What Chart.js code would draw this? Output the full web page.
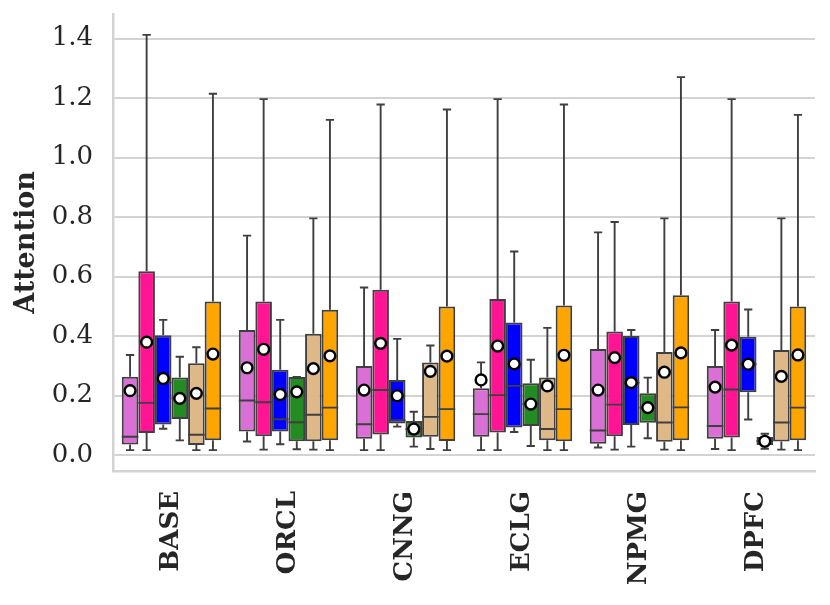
<!DOCTYPE html>
<html>
<head>
<meta charset="utf-8">
<script src="https://cdn.jsdelivr.net/npm/chart.js@4/dist/chart.umd.min.js"></script>
<style>
  html, body { margin: 0; padding: 0; background: #fff; }
  #wrap { width: 830px; height: 605px; }
</style>
</head>
<body>
<div id="wrap"><canvas id="chart" width="830" height="605"></canvas></div>
<script>
// categories on the x axis
const categories = ['BASE', 'ORCL', 'CNNG', 'ECLG', 'NPMG', 'DPFC'];
const seriesNames = ['S1', 'S2', 'S3', 'S4', 'S5', 'S6'];
const seriesColors = ['#DA70D6', '#FF1493', '#0000FF', '#228B22', '#DEB887', '#FFA500'];

// box statistics, one row per series, one value per category
const whiskerLow = [
  [0.017, 0.046, 0.017, 0.017, 0.026, 0.021],
  [0.017, 0.019, 0.017, 0.017, 0.019, 0.017],
  [0.089, 0.037, 0.096, 0.078, 0.029, 0.120],
  [0.050, 0.020, 0.029, 0.031, 0.057, 0.022],
  [0.017, 0.019, 0.021, 0.017, 0.019, 0.019],
  [0.017, 0.017, 0.017, 0.017, 0.017, 0.017]
];
const q1 = [
  [0.036, 0.080, 0.055, 0.062, 0.039, 0.055],
  [0.075, 0.064, 0.070, 0.076, 0.064, 0.060],
  [0.103, 0.080, 0.107, 0.093, 0.102, 0.212],
  [0.122, 0.047, 0.060, 0.098, 0.109, 0.034],
  [0.034, 0.047, 0.062, 0.050, 0.045, 0.046],
  [0.050, 0.050, 0.048, 0.047, 0.050, 0.050]
];
const medians = [
  [0.062, 0.184, 0.104, 0.138, 0.083, 0.098],
  [0.176, 0.178, 0.219, 0.202, 0.170, 0.221],
  [0.244, 0.121, 0.118, 0.233, 0.244, 0.306],
  [0.191, 0.111, 0.088, 0.172, 0.160, 0.047],
  [0.069, 0.136, 0.129, 0.088, 0.110, 0.110],
  [0.157, 0.160, 0.155, 0.155, 0.161, 0.160]
];
const q3 = [
  [0.264, 0.421, 0.300, 0.225, 0.357, 0.300],
  [0.618, 0.517, 0.556, 0.525, 0.416, 0.517],
  [0.403, 0.287, 0.253, 0.446, 0.401, 0.398],
  [0.261, 0.263, 0.115, 0.242, 0.208, 0.061],
  [0.309, 0.408, 0.312, 0.261, 0.347, 0.354],
  [0.517, 0.489, 0.500, 0.503, 0.538, 0.500]
];
const whiskerHigh = [
  [0.337, 0.738, 0.564, 0.312, 0.749, 0.421],
  [1.413, 1.197, 1.179, 1.197, 0.784, 1.197],
  [0.455, 0.455, 0.391, 0.685, 0.421, 0.490],
  [0.331, 0.263, 0.146, 0.321, 0.261, 0.072],
  [0.363, 0.796, 0.369, 0.428, 0.796, 0.796],
  [1.215, 1.127, 1.162, 1.179, 1.271, 1.144]
];
const means = [
  [0.217, 0.294, 0.219, 0.253, 0.219, 0.229],
  [0.380, 0.356, 0.376, 0.367, 0.328, 0.370],
  [0.258, 0.204, 0.200, 0.307, 0.244, 0.306],
  [0.191, 0.213, 0.088, 0.172, 0.160, 0.047],
  [0.208, 0.291, 0.282, 0.233, 0.279, 0.265],
  [0.340, 0.334, 0.333, 0.336, 0.344, 0.337]
];

// y axis
const yTicks = [0.0, 0.2, 0.4, 0.6, 0.8, 1.0, 1.2, 1.4];
const yMin = -0.053;
const yMax = 1.483;

const inkColor = '#262626';
const lineColor = '#3f3f3f';
const gridColor = '#d3d3d3';

// whiskers, caps, medians and mean markers on top of the floating bars
const boxExtras = {
  id: 'boxExtras',
  afterDatasetsDraw(chart) {
    const ctx = chart.ctx;
    const y = chart.scales.y;
    ctx.save();
    ctx.strokeStyle = lineColor;
    ctx.lineWidth = 1.9;
    chart.data.datasets.forEach((ds, i) => {
      chart.getDatasetMeta(i).data.forEach((bar, j) => {
        const x = bar.x, half = bar.width / 2, cap = bar.width / 4;
        const yl = y.getPixelForValue(whiskerLow[i][j]);
        const yh = y.getPixelForValue(whiskerHigh[i][j]);
        const y1 = y.getPixelForValue(q1[i][j]);
        const y3 = y.getPixelForValue(q3[i][j]);
        const ym = y.getPixelForValue(medians[i][j]);
        ctx.beginPath();
        ctx.moveTo(x, y3); ctx.lineTo(x, yh);
        ctx.moveTo(x - cap, yh); ctx.lineTo(x + cap, yh);
        ctx.moveTo(x, y1); ctx.lineTo(x, yl);
        ctx.moveTo(x - cap, yl); ctx.lineTo(x + cap, yl);
        ctx.moveTo(x - half, ym); ctx.lineTo(x + half, ym);
        ctx.stroke();
      });
    });
    // mean markers
    ctx.fillStyle = '#ffffff';
    ctx.strokeStyle = '#000000';
    ctx.lineWidth = 2.4;
    chart.data.datasets.forEach((ds, i) => {
      chart.getDatasetMeta(i).data.forEach((bar, j) => {
        ctx.beginPath();
        ctx.arc(bar.x, y.getPixelForValue(means[i][j]), 5.4, 0, Math.PI * 2);
        ctx.fill();
        ctx.stroke();
      });
    });
    ctx.restore();
  }
};

Chart.defaults.font.family = "'DejaVu Serif', serif";
Chart.defaults.color = inkColor;

new Chart(document.getElementById('chart'), {
  type: 'bar',
  data: {
    labels: categories,
    datasets: seriesNames.map((name, i) => ({
      label: name,
      data: q1[i].map((v, j) => [v, q3[i][j]]),
      backgroundColor: seriesColors[i],
      borderColor: lineColor,
      borderWidth: 2,
      borderSkipped: false,
      categoryPercentage: 0.85,
      barPercentage: 1.0
    }))
  },
  options: {
    responsive: false,
    animation: false,
    devicePixelRatio: 1,
    layout: { padding: { top: 14, right: 15, left: 0, bottom: 0 } },
    plugins: {
      legend: { display: false },
      tooltip: { enabled: false }
    },
    scales: {
      x: {
        grid: { display: false, drawTicks: false },
        border: { display: true, color: gridColor, width: 2.5 },
        ticks: {
          minRotation: 90,
          maxRotation: 90,
          padding: 20,
          color: inkColor,
          font: { size: 26, weight: 'bold' }
        },
        afterFit: s => { s.height = 134; s.paddingLeft = 0; s.paddingRight = 0; }
      },
      y: {
        min: yMin,
        max: yMax,
        afterBuildTicks: s => { s.ticks = yTicks.map(v => ({ value: v })); },
        grid: { color: gridColor, lineWidth: 2, drawTicks: false },
        border: { display: true, color: gridColor, width: 2.5 },
        ticks: {
          padding: 20,
          color: inkColor,
          font: { size: 26 },
          callback: v => Number(v).toFixed(1)
        },
        title: {
          display: true,
          text: 'Attention',
          color: inkColor,
          padding: { top: 11, bottom: 4 },
          font: { size: 27, weight: 'bold' }
        },
        afterFit: s => { s.width = 113; s.paddingTop = 0; s.paddingBottom = 0; }
      }
    }
  },
  plugins: [boxExtras]
});
</script>
</body>
</html>
